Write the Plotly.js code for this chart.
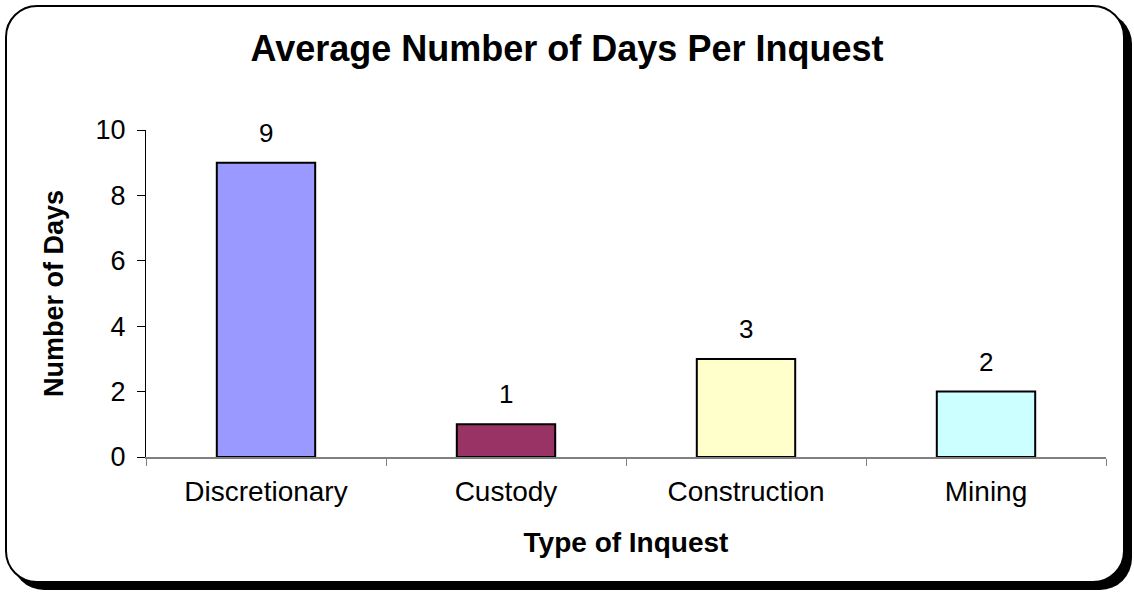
<!DOCTYPE html>
<html>
<head>
<meta charset="utf-8">
<script src="https://cdn.plot.ly/plotly-3.0.1.min.js"></script>
<style>
  html, body { margin: 0; padding: 0; background: #fff; width: 1134px; height: 595px; overflow: hidden; }
  #frame { position: absolute; left: 5px; top: 5px; width: 1116px; height: 574px; border: 2px solid #000; border-radius: 32px; box-shadow: 7px 7px 0 #000; background: #fff; }
  #chart { position: absolute; left: 0; top: 0; width: 1134px; height: 595px; }
</style>
</head>
<body>
<div id="frame"></div>
<div id="chart"></div>
<script>
const categories = ["Discretionary", "Custody", "Construction", "Mining"];
const daysPerInquest = [9, 1, 3, 2];
const barColors = ["#9999FF", "#993366", "#FFFFCC", "#CCFFFF"];
const yTickValues = [0, 2, 4, 6, 8, 10];

const font = "Liberation Sans, Arial, sans-serif";

const trace = {
  type: "bar",
  x: categories,
  y: daysPerInquest,
  marker: { color: barColors, line: { color: "#000", width: 2 } },
  hoverinfo: "skip"
};

const annotations = categories.map((c, i) => ({
  x: c, y: daysPerInquest[i], xref: "x", yref: "y",
  text: String(daysPerInquest[i]), showarrow: false,
  yanchor: "bottom", yshift: 13,
  font: { family: font, size: 26, color: "#000" }
}));

const layout = {
  width: 1134, height: 595,
  paper_bgcolor: "rgba(0,0,0,0)",
  plot_bgcolor: "rgba(0,0,0,0)",
  margin: { l: 146, r: 28, t: 130, b: 138 },
  showlegend: false,
  bargap: 0.59,
  title: {
    text: "<b>Average Number of Days Per Inquest</b>",
    font: { family: font, size: 36, color: "#000" },
    x: 0.5, xanchor: "center", y: 0.918, yanchor: "middle"
  },
  xaxis: {
    type: "category",
    range: [-0.5, 3.5],
    showline: true, linecolor: "#808080", linewidth: 2,
    ticks: "outside", tickson: "boundaries", ticklen: 7, tickcolor: "#808080", tickwidth: 1,
    ticklabelstandoff: 8,
    tickfont: { family: font, size: 28, color: "#000" },
    showgrid: false, zeroline: false,
    title: { text: "<b>Type of Inquest</b>", font: { family: font, size: 28, color: "#000" }, standoff: 27 }
  },
  yaxis: {
    range: [0, 10],
    tickvals: yTickValues,
    showline: true, linecolor: "#000", linewidth: 1,
    ticks: "outside", ticklen: 8, tickcolor: "#000", tickwidth: 1,
    ticklabelstandoff: 6,
    tickfont: { family: font, size: 27, color: "#000" },
    showgrid: false, zeroline: false,
    title: { text: "<b>Number of Days</b>", font: { family: font, size: 27, color: "#000" }, standoff: 24 }
  },
  annotations: annotations
};

Plotly.newPlot("chart", [trace], layout, { displayModeBar: false, staticPlot: true });
</script>
</body>
</html>
